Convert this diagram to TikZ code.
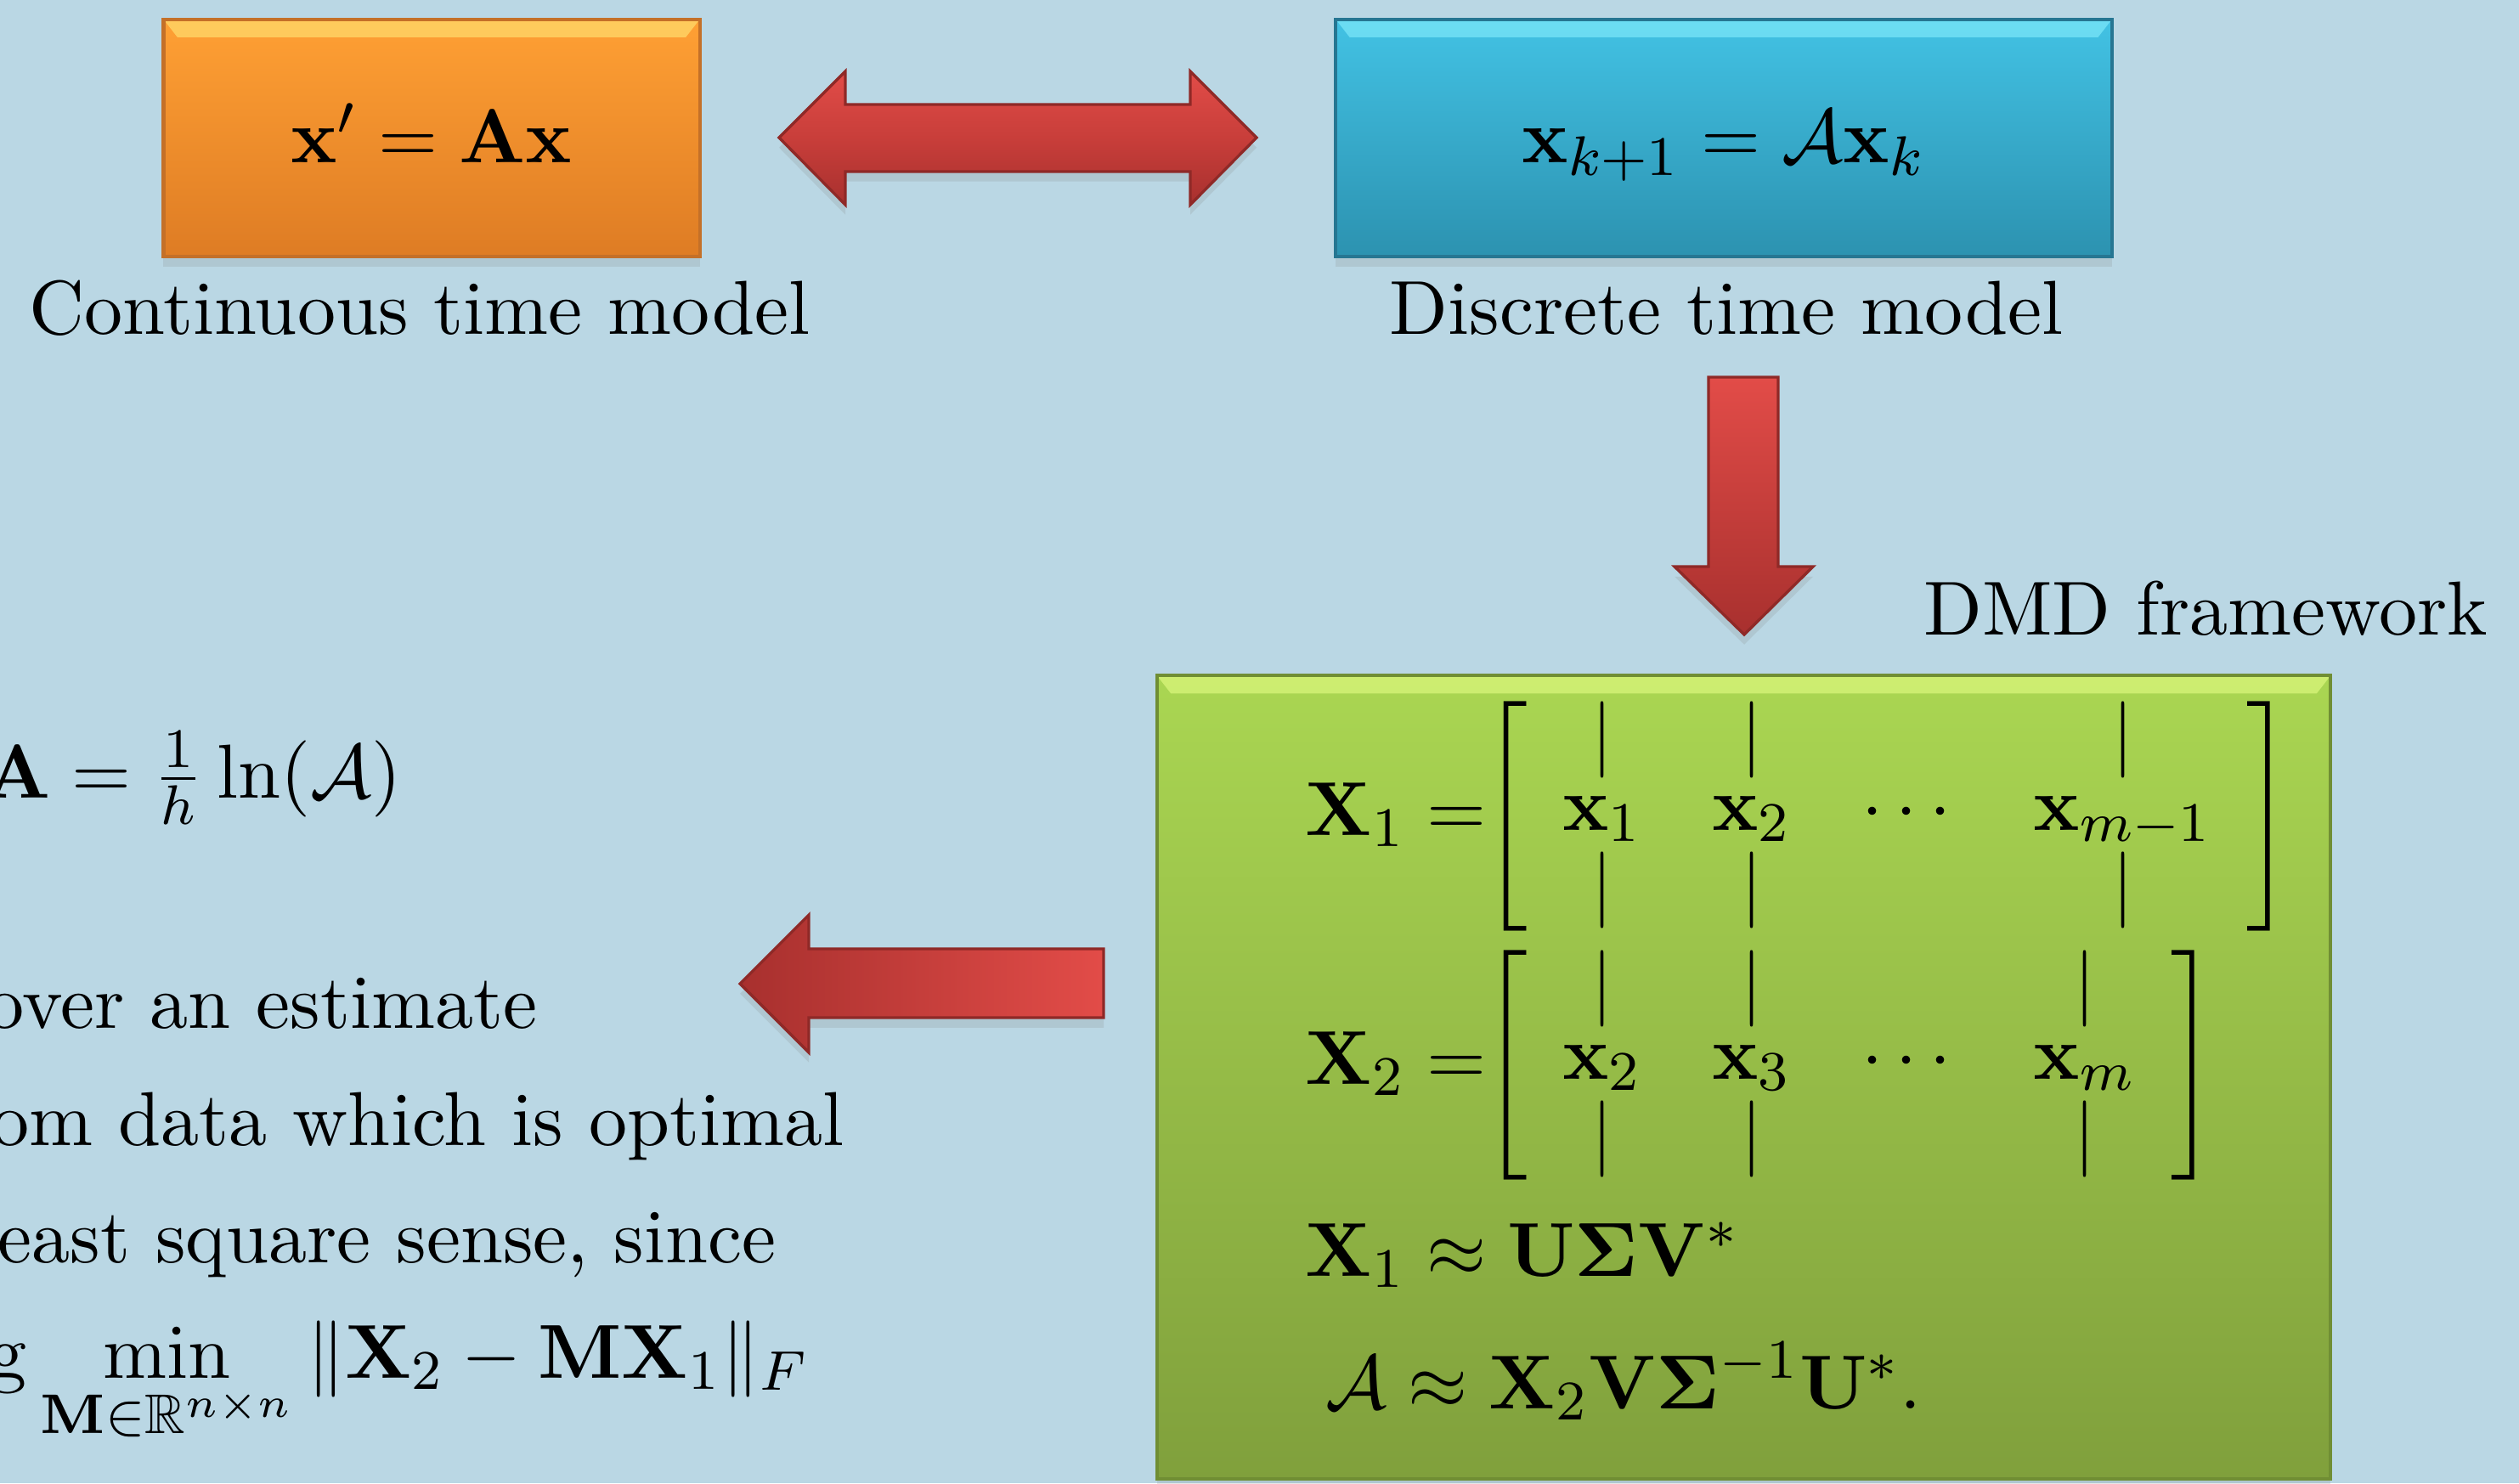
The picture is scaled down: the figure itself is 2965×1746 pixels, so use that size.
\documentclass[tikz,border=0pt]{standalone}
\usepackage{amsmath,amssymb}
\usepackage{xcolor}
\usetikzlibrary{positioning,shadows}
\definecolor{slidebg}{RGB}{186,215,228}
\definecolor{orangetop}{RGB}{255,160,52}
\definecolor{orangebottom}{RGB}{222,124,36}
\definecolor{orangeborder}{RGB}{196,112,40}
\definecolor{orangeshine}{RGB}{255,222,110}
\definecolor{bluetop}{RGB}{66,194,228}
\definecolor{bluebottom}{RGB}{44,146,176}
\definecolor{blueborder}{RGB}{38,118,146}
\definecolor{blueshine}{RGB}{125,232,250}
\definecolor{greentop}{RGB}{170,214,82}
\definecolor{greenbottom}{RGB}{128,160,60}
\definecolor{greenborder}{RGB}{112,142,52}
\definecolor{greenshine}{RGB}{220,248,125}
\definecolor{redlight}{RGB}{226,76,72}
\definecolor{redmid}{RGB}{200,62,58}
\definecolor{reddark}{RGB}{168,48,46}
\tikzset{
  modelbox/.style={draw=#1border,line width=0.5pt,top color=#1top,bottom color=#1bottom,
    text height=0.75em,text depth=0.05em,
    drop shadow={opacity=0.18,shadow xshift=0pt,shadow yshift=-0.05cm},
    path picture={\fill[#1shine,opacity=0.7] (path picture bounding box.north west)
      -- (path picture bounding box.north east)
      -- ([xshift=-0.07cm,yshift=-0.09cm]path picture bounding box.north east)
      -- ([xshift=0.07cm,yshift=-0.09cm]path picture bounding box.north west) -- cycle;}},
  blockarrow/.style={draw=reddark!85!black,line width=0.4pt,
    drop shadow={opacity=0.18,shadow xshift=0pt,shadow yshift=-0.05cm}},
  modellabel/.style={inner sep=0pt,anchor=base},
  slidetext/.style={inner sep=0pt,anchor=base west}
}

\begin{document}
\begin{tikzpicture}[x=0.00428cm,y=-0.00428cm,font=\fontsize{10.95}{13.6}\selectfont]
  \useasboundingbox (0,0) rectangle (2965,1746);
  \clip (0,0) rectangle (2965,1746);
  \fill[slidebg] (0,0) rectangle (2965,1746);

  % the two models
  \node[modelbox=orange,minimum width=2.696cm,minimum height=1.194cm] (contmodel)
    at (508,162.5) {$\mathbf{x}' = \mathbf{A}\mathbf{x}$};
  \node[modelbox=blue,minimum width=3.903cm,minimum height=1.194cm] (discmodel)
    at (2029,162.5) {$\mathbf{x}_{k+1} = \mathcal{A}\mathbf{x}_k$};
  \node[modellabel] (contlabel) at (494,393) {Continuous time model};
  \node[modellabel] (disclabel) at (2032,393) {Discrete time model};

  % block arrows
  \shade[blockarrow,top color=redlight,bottom color=reddark,middle color=redmid]
    (917,162) -- (995,84) -- (995,123) -- (1401,123) -- (1401,84) -- (1479,162)
    -- (1401,241) -- (1401,202) -- (995,202) -- (995,241) -- cycle;
  \shade[blockarrow,top color=redlight,bottom color=reddark]
    (2011,444) -- (2093,444) -- (2093,667) -- (2134,667) -- (2053,747)
    -- (1971,667) -- (2011,667) -- cycle;
  \shade[blockarrow,left color=reddark,right color=redlight]
    (871,1158) -- (952,1077) -- (952,1117) -- (1299,1117) -- (1299,1198)
    -- (952,1198) -- (952,1239) -- cycle;

  % DMD framework
  \node[modellabel] (dmdlabel) at (2596,747) {DMD framework};
  \node[modelbox=green,minimum width=5.902cm,minimum height=4.04cm] (dmdbox) at (2052.5,1268) {};
  \node[slidetext] (snapone) at (1535,983) {\renewcommand{\arraystretch}{0.75}%
    $\mathbf{X}_1 = \kern-3.5pt\left[\begin{array}{cccc}
      \vert & \vert & & \vert\\
      \mathbf{x}_1 & \mathbf{x}_2 & \cdots & \mathbf{x}_{m-1}\\
      \vert & \vert & & \vert
    \end{array}\right]$};
  \node[slidetext] (snaptwo) at (1535,1276) {\renewcommand{\arraystretch}{0.75}%
    $\mathbf{X}_2 = \kern-3.5pt\left[\begin{array}{cccc}
      \vert & \vert & & \vert\\
      \mathbf{x}_2 & \mathbf{x}_3 & \cdots & \mathbf{x}_{m}\\
      \vert & \vert & & \vert
    \end{array}\right]$};
  \node[slidetext] (svd) at (1535,1502)
    {$\mathbf{X}_1 \approx \mathbf{U}\boldsymbol{\Sigma}\mathbf{V}^*$};
  \node[slidetext] (estimate) at (1559,1658)
    {$\mathcal{A} \approx \mathbf{X}_2\mathbf{V}\boldsymbol{\Sigma}^{-1}\mathbf{U}^*.$};

  % text cut at the left edge
  \node[slidetext] (logeq) at (-20,939) {$\mathbf{A} = \frac{1}{h}\ln(\mathcal{A})$};
  \node[slidetext] (lineone) at (-18,1210) {over an estimate};
  \node[slidetext] (linetwo) at (-12,1348) {om data which is optimal};
  \node[slidetext] (linethree) at (-4,1486) {east square sense, since};
  \node[slidetext] (linefour) at (-15,1622)
    {$\mathrm{g}\min\limits_{\mathbf{M}\in\mathbb{R}^{n\times n}} \|\mathbf{X}_2-\mathbf{M}\mathbf{X}_1\|_F$};
\end{tikzpicture}
\end{document}
